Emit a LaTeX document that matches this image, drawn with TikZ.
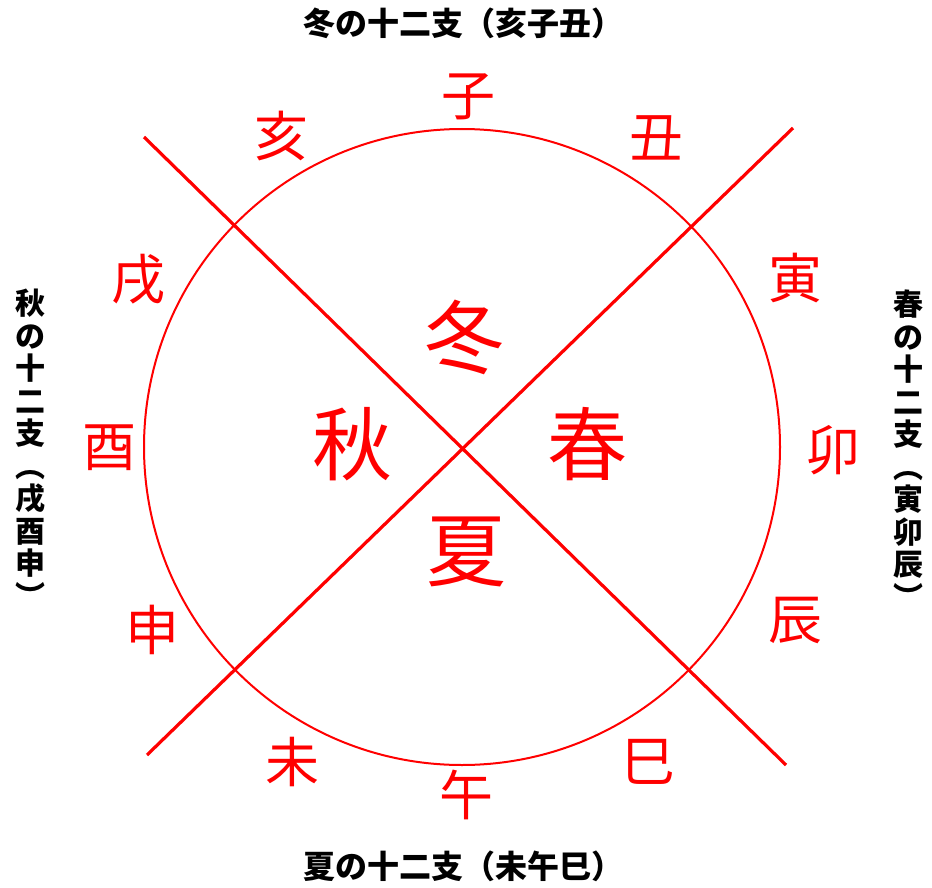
\documentclass[tikz,border=0pt]{standalone}
\usepackage{fontspec}
\setmainfont{Noto Sans CJK JP}
\begin{document}
\begin{tikzpicture}[x=1pt,y=-1pt,
  branch/.style={text=red,font=\fontsize{54}{54}\selectfont,inner sep=0pt},
  season/.style={text=red,font=\fontsize{80}{80}\selectfont,inner sep=0pt},
  title/.style={text=black,font=\fontsize{32}{32}\selectfont\bfseries,inner sep=0pt},
  vtitle/.style={text=black,font=\fontsize{30}{32.5}\selectfont\bfseries,inner sep=0pt,align=center},
  redline/.style={draw=red,line width=3.2pt},
  ring/.style={draw=red,line width=2pt}]
\useasboundingbox (0,0) rectangle (932,888);
\fill[white] (0,0) rectangle (932,888);
% circle
\coordinate (c) at (462,447);
\draw[ring] (c) circle[radius=318];
% diagonal lines
\coordinate (a1) at (144,137);
\coordinate (a2) at (786,765);
\coordinate (b1) at (793,128);
\coordinate (b2) at (147,755);
\draw[redline] (a1) -- (a2);
\draw[redline] (b1) -- (b2);
% branches
\node[branch] (zi)   at (468,97)  {子};
\node[branch] (chou) at (656,138) {丑};
\node[branch] (hai)  at (281,136) {亥};
\node[branch] (yin)  at (795,278) {寅};
\node[branch] (mao)  at (833,450) {卯};
\node[branch] (chen) at (795,620) {辰};
\node[branch] (si)   at (648,762) {巳};
\node[branch] (wu)   at (466,795) {午};
\node[branch] (wei)  at (292,762) {未};
\node[branch] (shen) at (152,630) {申};
\node[branch] (you)  at (109,448) {酉};
\node[branch] (xu)   at (138,279) {戌};
% seasons
\node[season] (fuyu) at (464,337) {冬};
\node[season] (haru) at (587,444) {春};
\node[season] (natsu) at (466,552) {夏};
\node[season] (aki)  at (352,444) {秋};
% titles
\node[title] (ttop) at (463,23) {冬の十二支（亥子丑）};
\node[title] (tbot) at (463,866) {夏の十二支（未午巳）};
\node[vtitle] (tleft) at (30,448) {秋\\の\\十\\二\\支\\︵\\戌\\酉\\申\\︶};
\node[vtitle] (tright) at (908,449) {春\\の\\十\\二\\支\\︵\\寅\\卯\\辰\\︶};
\end{tikzpicture}
\end{document}
